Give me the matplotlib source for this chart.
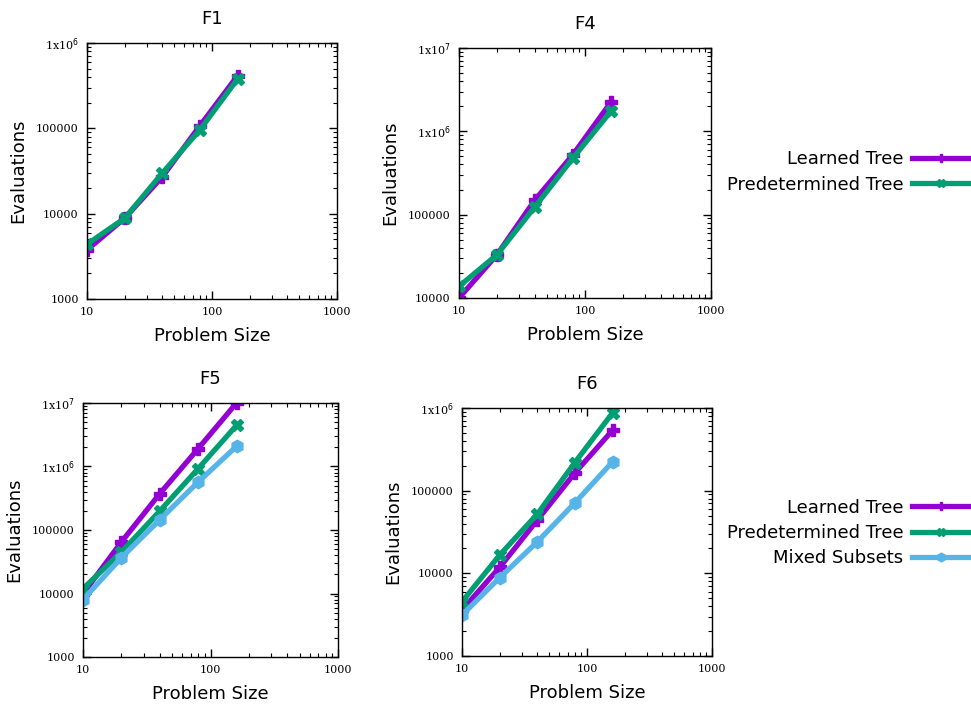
import numpy as np
import matplotlib
matplotlib.use("Agg")
import matplotlib.pyplot as plt
from matplotlib.ticker import LogLocator, FixedLocator, NullFormatter

# problem sizes shared by all panels
sizes = [10, 20, 40, 80, 160]

f1_learned = [3760, 8840, 27000, 107000, 413000]
f1_predet = [4380, 8840, 29800, 96000, 378000]

f4_learned = [10000, 33000, 150000, 521000, 2220000]
f4_predet = [13800, 33000, 124000, 475000, 1730000]

f5_learned = [9900, 64700, 373000, 1910000, 10000000]
f5_predet = [11900, 45000, 199000, 925000, 4450000]
f5_mixed = [8000, 36700, 145000, 570000, 2080000]

f6_learned = [3600, 11800, 44000, 164000, 537000]
f6_predet = [4530, 16600, 52000, 219000, 871000]
f6_mixed = [3130, 8840, 24000, 71200, 223000]

names = ["Learned Tree", "Predetermined Tree", "Mixed Subsets"]
colors = ["#9400d3", "#009e73", "#56b4e9"]
markers = ["P", "X", "h"]

W, H = 971, 708
fig = plt.figure(figsize=(W / 100, H / 100), dpi=100)


def px_axes(l, t, r, b):
    return fig.add_axes([l / W, 1 - b / H, (r - l) / W, (b - t) / H])


def ylabel_fmt(v):
    e = int(round(np.log10(v)))
    if e >= 6:
        return r"1x10$^{%d}$" % e
    return "%d" % v


def panel(box, title, series, ylo, yhi):
    ax = px_axes(*box)
    lines = []
    for i, ys in enumerate(series):
        ln, = ax.plot(sizes, ys, color=colors[i], marker=markers[i], lw=3.8,
                      ms=9, mec=colors[i], label=names[i])
        lines.append(ln)
    ax.set_xscale("log")
    ax.set_yscale("log")
    ax.set_xlim(10, 1000)
    ax.set_ylim(ylo, yhi)
    ax.xaxis.set_major_locator(FixedLocator([10, 100, 1000]))
    ax.set_xticklabels(["10", "100", "1000"])
    yt = [10 ** k for k in range(int(np.log10(ylo)), int(np.log10(yhi)) + 1)]
    ax.yaxis.set_major_locator(FixedLocator(yt))
    ax.set_yticklabels([ylabel_fmt(v) for v in yt])
    for a in (ax.xaxis, ax.yaxis):
        a.set_minor_locator(LogLocator(base=10, subs=np.arange(2, 10)))
        a.set_minor_formatter(NullFormatter())
    ax.tick_params(which="both", direction="in", top=True, right=True,
                   labelsize=8, pad=6, colors="black")
    ax.tick_params(which="major", length=6, width=1)
    ax.tick_params(which="minor", length=3, width=0.8)
    for lb in ax.get_xticklabels() + ax.get_yticklabels():
        lb.set_fontfamily("DejaVu Serif")
    for s in ax.spines.values():
        s.set_linewidth(1)
    ax.set_title(title, fontsize=13, pad=14)
    ax.set_xlabel("Problem Size", fontsize=13, labelpad=7)
    ax.set_ylabel("Evaluations", fontsize=13, labelpad=6)
    return lines


top_lines = panel((87, 43, 337, 299), "F1", [f1_learned, f1_predet], 1000, 1e6)
panel((459, 48, 711, 298), "F4", [f4_learned, f4_predet], 1e4, 1e7)
panel((83, 403, 338, 657), "F5", [f5_learned, f5_predet, f5_mixed], 1000, 1e7)
bot_lines = panel((462, 408, 712, 656), "F6", [f6_learned, f6_predet, f6_mixed], 1000, 1e6)

for lines, y in ((top_lines, 172), (bot_lines, 533)):
    fig.legend(handles=lines, loc="center right", bbox_to_anchor=(970 / W, 1 - y / H),
               frameon=False, markerfirst=False, fontsize=13, handlelength=3.2,
               handletextpad=0.5, labelspacing=0.4, borderaxespad=0, borderpad=0,
               markerscale=0.7)

fig.savefig("out.png", dpi=100)
